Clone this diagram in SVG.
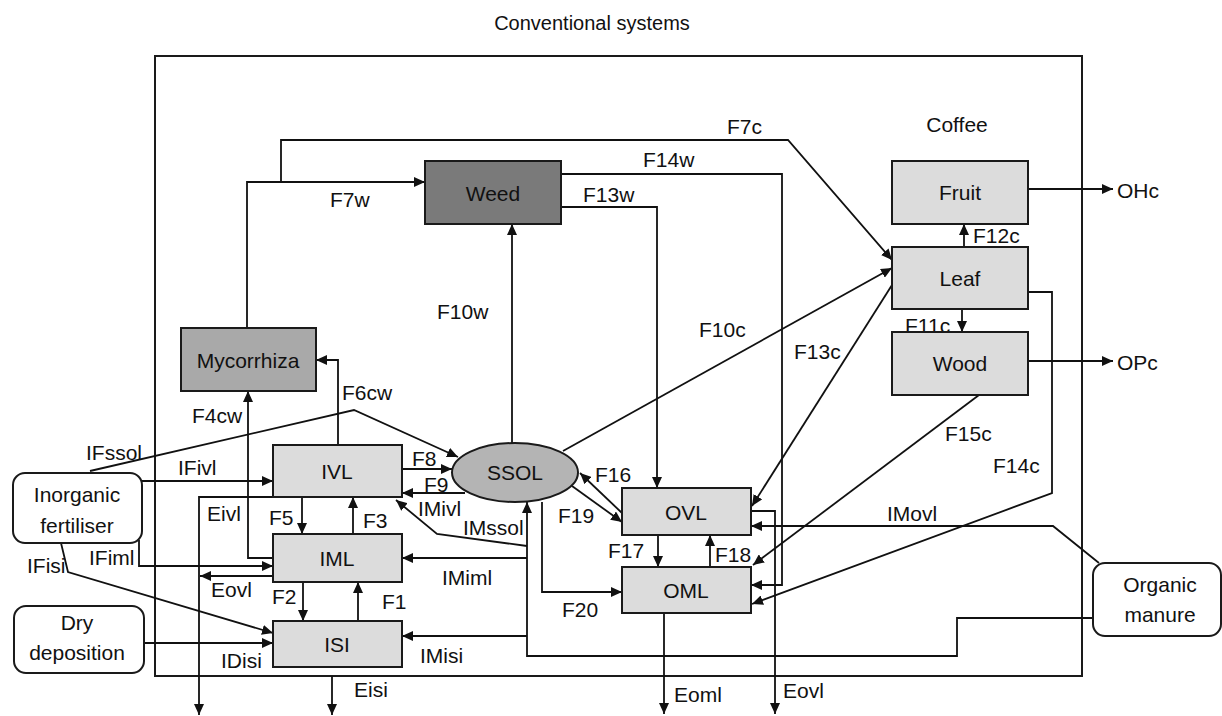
<svg xmlns="http://www.w3.org/2000/svg" width="1222" height="716" viewBox="0 0 1222 716">
  <style>
    text { font-family: "Liberation Sans", Arial, sans-serif; font-size: 21px; fill: #111; }
    .title { font-size: 20px; }
    .node-text { text-anchor: middle; }
    .box { stroke: #1a1a1a; stroke-width: 2; }
    .light { fill: #dcdcdc; }
    .mid { fill: #a9a9a9; }
    .dark { fill: #7a7a7a; }
    .soil { fill: #b4b4b4; }
    .src { fill: #fff; stroke: #1a1a1a; stroke-width: 2; }
    .frame { fill: none; stroke: #1a1a1a; stroke-width: 2; }
    .c { fill: none; stroke: #111; stroke-width: 1.8; }
    .a { marker-end: url(#arrow); }
  </style>
  <defs>
    <marker id="arrow" markerUnits="userSpaceOnUse" markerWidth="12" markerHeight="10" refX="11" refY="5" orient="auto">
      <path d="M0,0 L11,5 L0,10 z" fill="#111"/>
    </marker>
  </defs>

  <rect width="1222" height="716" fill="#fff"/>
  <text class="title" x="592" y="30" text-anchor="middle">Conventional systems</text>
  <rect class="frame" x="155" y="56" width="927" height="620"/>
  <text x="957" y="132" text-anchor="middle">Coffee</text>

  <g id="connectors">
    <!-- mycorrhiza to weed and coffee leaf -->
    <path class="c a" d="M247,328 V182 H425"/>
    <text x="330" y="207">F7w</text>
    <path class="c a" d="M281,182 V140 H788 L892,260"/>
    <text x="727" y="134">F7c</text>
    <!-- weed litter -->
    <path class="c a" d="M561,174 H782 V585 H751"/>
    <text x="643" y="167">F14w</text>
    <path class="c a" d="M561,207 H657 V488"/>
    <text x="583" y="202">F13w</text>
    <!-- soil solution uptake -->
    <path class="c a" d="M512,443 V224"/>
    <text x="437" y="319">F10w</text>
    <path class="c a" d="M563,451 L892,268"/>
    <text x="699" y="337">F10c</text>
    <!-- coffee internal flows and outputs -->
    <path class="c a" d="M892,285 L752,506"/>
    <text x="794" y="359">F13c</text>
    <path class="c a" d="M964,247 V224"/>
    <text x="973" y="243">F12c</text>
    <path class="c a" d="M962,309 V332"/>
    <text x="905" y="333">F11c</text>
    <path class="c a" d="M1028,189 H1113"/>
    <text x="1117" y="198">OHc</text>
    <path class="c a" d="M1028,361 H1113"/>
    <text x="1117" y="370">OPc</text>
    <path class="c a" d="M1028,292 H1052 V493 L752,604"/>
    <text x="993" y="473">F14c</text>
    <path class="c a" d="M979,395 L753,565"/>
    <text x="945" y="441">F15c</text>
    <!-- organic manure -->
    <path class="c a" d="M1099,563 L1053,526 H751"/>
    <text x="887" y="521">IMovl</text>
    <path class="c a" d="M1093,618 H957 V656 H527 V502"/>
    <path class="c a" d="M527,636 H402"/>
    <text x="420" y="663">IMisi</text>
    <path class="c a" d="M527,558 H402"/>
    <text x="442" y="585">IMiml</text>
    <path class="c a" d="M527,546 L437,534 L396,500"/>
    <text x="418" y="516">IMivl</text>
    <text x="463" y="535">IMssol</text>
    <!-- exchanges with soil solution -->
    <path class="c a" d="M402,469 H452"/>
    <text x="412" y="466">F8</text>
    <path class="c a" d="M465,493 H402"/>
    <text x="424" y="492">F9</text>
    <path class="c a" d="M622,513 L580,473"/>
    <text x="595" y="482">F16</text>
    <path class="c a" d="M572,486 L622,522"/>
    <text x="558" y="523">F19</text>
    <path class="c a" d="M542,502 V592 H622"/>
    <text x="562" y="617">F20</text>
    <path class="c a" d="M658,535 V567"/>
    <text x="608" y="558">F17</text>
    <path class="c a" d="M710,567 V535"/>
    <text x="715" y="562">F18</text>
    <path class="c a" d="M664,613 V714"/>
    <text x="674" y="702">Eoml</text>
    <path class="c a" d="M751,511 H775 V714"/>
    <text x="783" y="698">Eovl</text>
    <!-- inorganic pools -->
    <path class="c a" d="M338,445 V360 H316"/>
    <text x="342" y="400">F6cw</text>
    <path class="c a" d="M273,558 H248 V391"/>
    <text x="192" y="423">F4cw</text>
    <path class="c a" d="M302,497 V534"/>
    <text x="269" y="525">F5</text>
    <path class="c a" d="M353,534 V497"/>
    <text x="363" y="528">F3</text>
    <path class="c a" d="M303,582 V621"/>
    <text x="272" y="604">F2</text>
    <path class="c a" d="M358,621 V582"/>
    <text x="382" y="609">F1</text>
    <!-- inputs -->
    <path class="c a" d="M142,481 H273"/>
    <text x="178" y="475">IFivl</text>
    <path class="c a" d="M90,471 L354,410 L458,457"/>
    <text x="86" y="460">IFssol</text>
    <path class="c a" d="M139,540 V566 H273"/>
    <text x="89" y="565">IFiml</text>
    <path class="c a" d="M61,543 L68,572 L273,633"/>
    <text x="27" y="573">IFisi</text>
    <path class="c a" d="M144,643 H273"/>
    <text x="221" y="668">IDisi</text>
    <!-- losses -->
    <path class="c a" d="M273,497 H199 V715"/>
    <text x="207" y="521">Eivl</text>
    <path class="c a" d="M273,576 H200"/>
    <text x="211" y="597">Eovl</text>
    <path class="c a" d="M332,676 V715"/>
    <text x="354" y="697">Eisi</text>
  </g>

  <g id="weed">
    <rect class="box dark" x="425" y="161" width="136" height="63"/>
    <text class="node-text" x="493" y="201">Weed</text>
  </g>
  <g id="mycorrhiza">
    <rect class="box mid" x="181" y="328" width="135" height="63"/>
    <text class="node-text" x="248" y="368">Mycorrhiza</text>
  </g>
  <g id="fruit">
    <rect class="box light" x="892" y="161" width="136" height="63"/>
    <text class="node-text" x="960" y="200">Fruit</text>
  </g>
  <g id="leaf">
    <rect class="box light" x="892" y="247" width="136" height="62"/>
    <text class="node-text" x="960" y="286">Leaf</text>
  </g>
  <g id="wood">
    <rect class="box light" x="892" y="332" width="136" height="63"/>
    <text class="node-text" x="960" y="371">Wood</text>
  </g>
  <g id="ivl">
    <rect class="box light" x="273" y="445" width="129" height="52"/>
    <text class="node-text" x="337" y="479">IVL</text>
  </g>
  <g id="iml">
    <rect class="box light" x="273" y="534" width="129" height="48"/>
    <text class="node-text" x="337" y="566">IML</text>
  </g>
  <g id="isi">
    <rect class="box light" x="273" y="621" width="129" height="46"/>
    <text class="node-text" x="337" y="652">ISI</text>
  </g>
  <g id="ssol">
    <ellipse class="box soil" cx="515" cy="472.5" rx="63" ry="29.5"/>
    <text class="node-text" x="515" y="480">SSOL</text>
  </g>
  <g id="ovl">
    <rect class="box light" x="622" y="488" width="129" height="47"/>
    <text class="node-text" x="686" y="520">OVL</text>
  </g>
  <g id="oml">
    <rect class="box light" x="622" y="567" width="129" height="46"/>
    <text class="node-text" x="686" y="598">OML</text>
  </g>
  <g id="inorganic-fertiliser">
    <rect class="src" x="13" y="473" width="129" height="70" rx="12"/>
    <text class="node-text" x="77" y="502">Inorganic</text>
    <text class="node-text" x="77" y="533">fertiliser</text>
  </g>
  <g id="dry-deposition">
    <rect class="src" x="14" y="606" width="130" height="67" rx="12"/>
    <text class="node-text" x="77" y="630">Dry</text>
    <text class="node-text" x="77" y="660">deposition</text>
  </g>
  <g id="organic-manure">
    <rect class="src" x="1093" y="563" width="128" height="73" rx="12"/>
    <text class="node-text" x="1160" y="592">Organic</text>
    <text class="node-text" x="1160" y="622">manure</text>
  </g>
</svg>
